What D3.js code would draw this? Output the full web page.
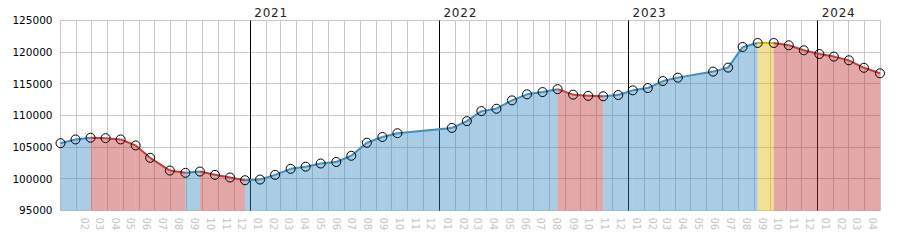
<!DOCTYPE html>
<html>
<head>
<meta charset="utf-8">
<script src="https://cdn.jsdelivr.net/npm/d3@7"></script>
<style>
  body { margin: 0; background: #fff; }
  text { font-family: "DejaVu Sans", Verdana, sans-serif; }
</style>
</head>
<body>
<div class="chart"></div>
<script>
// DATA
const dates = [
  "2020-01-01","2020-01-30","2020-02-28","2020-03-28","2020-04-26","2020-05-25","2020-06-22",
  "2020-07-30","2020-08-29","2020-09-26","2020-10-25","2020-11-23","2020-12-22",
  "2021-01-20","2021-02-18","2021-03-20","2021-04-18","2021-05-17","2021-06-16","2021-07-15",
  "2021-08-14","2021-09-13","2021-10-12",
  "2022-01-25","2022-02-23","2022-03-23","2022-04-21","2022-05-21","2022-06-19","2022-07-19",
  "2022-08-17","2022-09-16","2022-10-15","2022-11-13","2022-12-12",
  "2023-01-09","2023-02-07","2023-03-08","2023-04-06","2023-06-13","2023-07-12","2023-08-09",
  "2023-09-07","2023-10-08","2023-11-06","2023-12-05",
  "2024-01-04","2024-02-01","2024-03-01","2024-03-30","2024-04-30"
];
const values = [
  105630,106220,106490,106420,106220,105270,103320,
  101310,100950,101150,100630,100210,99780,
  99890,100630,101580,101920,102420,102660,103640,
  105700,106610,107200,
  108040,109110,110690,111070,112390,113340,113700,
  114160,113290,113100,113040,113230,
  113970,114330,115440,115980,116930,117560,120820,
  121450,121450,121090,120300,
  119710,119300,118720,117530,116660
];
const yTicks = [95000,100000,105000,110000,115000,120000,125000];
const years = ["2021","2022","2023","2024"];
const domainDates = ["2020-01-01","2024-05-01"];

//CHART INIT
let outerWidth = 900, outerHeight = 250;
let margin = {top: 20.5, right: 19.5, bottom: 39.5, left: 60.5};
let width = 820, height = 190;

let svg = d3.select('.chart').append('svg')
  .attr('width', outerWidth)
  .attr('height', outerHeight)
  .append('g')
  .attr('transform', `translate(${margin.left},${margin.top})`);

const parse = d3.utcParse("%Y-%m-%d");
const data = dates.map((d, i) => ({date: parse(d), value: values[i]}));
const start = parse(domainDates[0]), end = parse(domainDates[1]);

const xScale = d3.scaleUtc().domain([start, end]).range([0, width]);
const yScale = d3.scaleLinear().domain([95000, 125000]).range([height, 0]);

// colours per direction
const colors = {
  up:   {line: "#3a8fc8", fill: "rgb(48,136,191)"},
  down: {line: "#c83a3a", fill: "rgb(190,46,46)"},
  flat: {line: "#e2b200", fill: "rgb(226,182,0)"}
};
const fillOpacity = 0.42;

// grid
const monthLines = d3.utcMonth.range(start, end).concat([end]);
svg.append('g').selectAll('line')
  .data(monthLines)
  .join('line')
  .attr('x1', d => Math.round(xScale(d)))
  .attr('x2', d => Math.round(xScale(d)))
  .attr('y1', 0).attr('y2', height)
  .attr('stroke', '#c8c8c8').attr('stroke-width', 1);

svg.append('g').selectAll('line')
  .data(yTicks)
  .join('line')
  .attr('x1', 0).attr('x2', width)
  .attr('y1', d => Math.round(yScale(d)))
  .attr('y2', d => Math.round(yScale(d)))
  .attr('stroke', '#c8c8c8').attr('stroke-width', 1);

// year lines
const yearDates = years.map(y => parse(y + "-01-01"));
svg.append('g').selectAll('line')
  .data(yearDates)
  .join('line')
  .attr('x1', d => Math.round(xScale(d)))
  .attr('x2', d => Math.round(xScale(d)))
  .attr('y1', 0).attr('y2', height)
  .attr('stroke', '#000').attr('stroke-width', 1);

// segments
const segs = d3.pairs(data).map(([a, b]) => ({
  a, b, dir: b.value > a.value ? 'up' : (b.value < a.value ? 'down' : 'flat')
}));

const area = d3.area().x(d => xScale(d.date)).y0(height).y1(d => yScale(d.value));
const line = d3.line().x(d => xScale(d.date)).y(d => yScale(d.value));

svg.append('g').selectAll('path')
  .data(segs)
  .join('path')
  .attr('d', s => area([s.a, s.b]))
  .attr('fill', s => colors[s.dir].fill)
  .attr('fill-opacity', fillOpacity)
  .attr('stroke', 'none');

svg.append('g').selectAll('path')
  .data(segs)
  .join('path')
  .attr('d', s => line([s.a, s.b]))
  .attr('fill', 'none')
  .attr('stroke', s => colors[s.dir].line)
  .attr('stroke-width', 2);

// markers
svg.append('g').selectAll('circle')
  .data(data)
  .join('circle')
  .attr('cx', d => xScale(d.date))
  .attr('cy', d => yScale(d.value))
  .attr('r', 4.5)
  .attr('fill', 'none')
  .attr('stroke', '#000')
  .attr('stroke-width', 1);

// y axis labels
svg.append('g').selectAll('text')
  .data(yTicks)
  .join('text')
  .attr('x', -8)
  .attr('y', d => yScale(d))
  .attr('dy', '0.36em')
  .attr('text-anchor', 'end')
  .attr('font-size', 10.5)
  .attr('fill', '#000')
  .text(d => d);

// year labels
svg.append('g').selectAll('text')
  .data(yearDates)
  .join('text')
  .attr('x', d => xScale(d) + 4)
  .attr('y', -4)
  .attr('font-size', 12)
  .attr('letter-spacing', '0.8px')
  .attr('fill', '#222')
  .text((d, i) => years[i]);

// month labels (rotated)
const monthLabels = d3.utcMonth.range(parse("2020-02-01"), end);
svg.append('g').selectAll('text')
  .data(monthLabels)
  .join('text')
  .attr('transform', d => `translate(${xScale(d3.utcDay.offset(d, 15))},${height + 7}) rotate(90)`)
  .attr('dy', '0.36em')
  .attr('font-size', 10)
  .attr('fill', '#c4c4c4')
  .text(d => d3.utcFormat("%m")(d));
</script>
</body>
</html>
